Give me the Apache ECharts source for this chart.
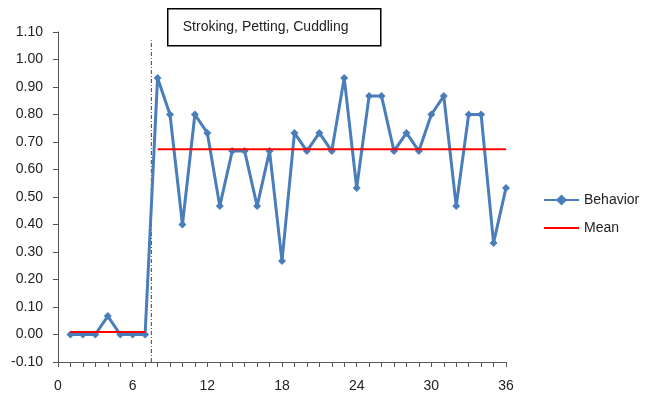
<!DOCTYPE html>
<html><head><meta charset="utf-8">
<script src="https://cdn.jsdelivr.net/npm/echarts@6/dist/echarts.min.js"></script>
<style>html,body{margin:0;padding:0;background:#fff}#c{width:647px;height:394px}</style>
</head><body><div id="c"></div>
<script>
var sessions = [1,2,3,4,5,6,7,8,9,10,11,12,13,14,15,16,17,18,19,20,21,22,23,24,25,26,27,28,29,30,31,32,33,34,35,36];
var behavior = [0,0,0,0.067,0,0,0,0.933,0.80,0.40,0.80,0.733,0.467,0.667,0.667,0.467,0.667,0.267,0.733,0.667,0.733,0.667,0.933,0.533,0.867,0.867,0.667,0.733,0.667,0.80,0.867,0.467,0.80,0.80,0.333,0.533];
var baselineMean = 0.0095, baselineStart = 1, baselineEnd = 7;
var treatmentMean = 0.674, treatmentStart = 8, treatmentEnd = 36;
var phaseChangeX = 7.5, phaseLineTop = 1.07;
var phaseLabel = 'Stroking, Petting, Cuddling';
var yTicks = [-0.1,0,0.1,0.2,0.3,0.4,0.5,0.6,0.7,0.8,0.9,1.0,1.1];
var xLabelStep = 6;

var font = 'Liberation Sans, Arial, sans-serif';
var chart = echarts.init(document.getElementById('c'), null, {renderer:'canvas'});
chart.setOption({
  animation:false,
  backgroundColor:'#fff',
  grid:{left:58,right:141,top:32,bottom:32},
  xAxis:{type:'value',min:0,max:36,interval:1,
    axisLine:{onZero:false,lineStyle:{color:'#555',width:1}},
    axisTick:{show:true,length:5,lineStyle:{color:'#555'}},
    splitLine:{show:false},
    axisLabel:{margin:17,color:'#222',fontFamily:font,fontSize:14,
      formatter:function(v){return v%xLabelStep===0?String(v):'';}}},
  yAxis:{type:'value',min:yTicks[0],max:yTicks[yTicks.length-1],interval:0.1,
    axisLine:{show:true,lineStyle:{color:'#555',width:1}},
    axisTick:{show:true,length:5,lineStyle:{color:'#555'}},
    splitLine:{show:false},
    axisLabel:{margin:15,color:'#222',fontFamily:font,fontSize:14,
      formatter:function(v){return v.toFixed(2);}}},
  legend:{left:538,top:188,orient:'vertical',itemWidth:35,itemHeight:14,itemGap:14,
    data:[{name:'Behavior'},{name:'Mean',itemStyle:{opacity:0}}],
    textStyle:{fontFamily:font,fontSize:14,color:'#222'}},
  graphic:[{type:'group',left:167,top:8,children:[
    {type:'rect',shape:{x:0,y:0,width:213,height:37},style:{fill:'#fff',stroke:'#000',lineWidth:1.5}},
    {type:'text',left:15,top:11,style:{text:phaseLabel,font:'14px '+font,fill:'#222'}}
  ]}],
  series:[
    {name:'phase',type:'line',data:[[phaseChangeX,yTicks[0]],[phaseChangeX,phaseLineTop]],
      symbol:'none',silent:true,lineStyle:{color:'#404040',width:1,type:[4,2,1,2]},z:1},
    {name:'Mean',type:'line',data:[[baselineStart,baselineMean],[baselineEnd,baselineMean]],
      symbol:'none',lineStyle:{color:'#ff0000',width:2},itemStyle:{color:'#ff0000'},z:3},
    {name:'Mean',type:'line',data:[[treatmentStart,treatmentMean],[treatmentEnd,treatmentMean]],
      symbol:'none',lineStyle:{color:'#ff0000',width:2},itemStyle:{color:'#ff0000'},z:3},
    {name:'Behavior',type:'line',data:sessions.map(function(s,i){return [s,behavior[i]];}),
      symbol:'diamond',symbolSize:8,showSymbol:true,
      lineStyle:{color:'#4a7ebb',width:3},itemStyle:{color:'#4a7ebb'},z:2}
  ]
});
</script></body></html>
